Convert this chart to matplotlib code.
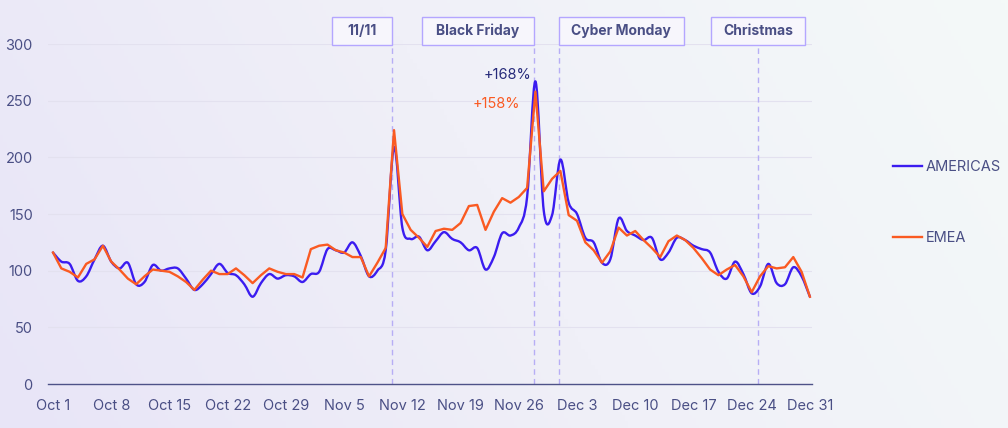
import numpy as np
import pandas as pd
import matplotlib
matplotlib.use("Agg")
import matplotlib.pyplot as plt
import matplotlib.dates as mdates
from matplotlib.path import Path
from matplotlib.patches import PathPatch, Rectangle
from matplotlib.lines import Line2D
from matplotlib.colors import LinearSegmentedColormap
from matplotlib.transforms import blended_transform_factory

# ---------------- data ----------------
dates = pd.date_range("2025-10-01", "2025-12-31", freq="D")

americas = [116, 108, 106, 91, 95, 110, 122, 108, 102, 107,
            88, 90, 105, 100, 102, 102, 93, 83, 88, 97,
            106, 98, 96, 88, 77, 89, 97, 93, 96, 95,
            90, 97, 99, 119, 118, 116, 125, 113, 95, 100,
            118, 209, 138, 128, 130, 118, 126, 134, 128, 125,
            118, 120, 101, 112, 133, 131, 138, 165, 267, 153,
            149, 198, 160, 150, 129, 125, 107, 110, 146, 135,
            131, 127, 129, 110, 116, 129, 127, 122, 119, 116,
            99, 93, 108, 97, 80, 86, 106, 89, 88, 103,
            95, 77]

emea = [116, 102, 99, 94, 106, 110, 122, 108, 101, 93,
        88, 95, 101, 100, 99, 95, 90, 83, 92, 100,
        97, 97, 102, 96, 89, 96, 102, 99, 97, 97,
        94, 119, 122, 123, 118, 116, 112, 112, 95, 107,
        120, 224, 150, 136, 129, 121, 135, 137, 136, 142,
        157, 158, 136, 152, 164, 160, 165, 173, 258, 170,
        181, 188, 149, 144, 125, 118, 107, 117, 138, 131,
        135, 127, 120, 112, 126, 131, 127, 120, 111, 101,
        96, 101, 105, 95, 81, 95, 104, 102, 103, 112,
        99, 77]

series_names = ["AMERICAS", "EMEA"]

event_names = ["11/11", "Black Friday", "Cyber Monday", "Christmas"]
event_dates = pd.to_datetime(["2025-11-11", "2025-11-28", "2025-12-01", "2025-12-25"])

peak_labels = ["+168%", "+158%"]

tick_dates = pd.date_range("2025-10-01", "2025-12-31", freq="7D")
y_ticks = [0, 50, 100, 150, 200, 250, 300]

# ---------------- style ----------------
C_BLUE = "#3b1cf0"
C_ORANGE = "#fa5a22"
C_TEXT = "#4a4f85"
C_NAVY = "#262a7a"
C_DASH = "#b7aef5"
C_BOX = "#b4a6ff"
FONT = ["Inter", "DejaVu Sans"]
plt.rcParams["font.family"] = FONT

W, H = 1008, 428
fig = plt.figure(figsize=(W / 100, H / 100), dpi=100)

# background gradient
bg = fig.add_axes([0, 0, 1, 1], zorder=-10)
cmap = LinearSegmentedColormap.from_list("bg", ["#e8e5f7", "#f0f0f8", "#f4f9f8"])
gx = np.linspace(0, 1, 300)
gy = np.linspace(0, 1, 130)
GX, GY = np.meshgrid(gx, gy)
bg.imshow(0.8 * GX + 0.2 * GY, cmap=cmap, aspect="auto", extent=[0, 1, 0, 1],
          vmin=0, vmax=1, origin="lower")
bg.axis("off")

left, right = 48 / W, 812 / W
bottom, top = (H - 384) / H, (H - 44) / H
ax = fig.add_axes([left, bottom, right - left, top - bottom])
ax.set_facecolor("none")

xnum = mdates.date2num(dates)


def smooth_path(x, y):
    x = np.asarray(x, float)
    y = np.asarray(y, float)
    n = len(x)
    verts = [(x[0], y[0])]
    codes = [Path.MOVETO]
    for i in range(n - 1):
        i0 = max(i - 1, 0)
        i3 = min(i + 2, n - 1)
        c1 = (x[i] + (x[i + 1] - x[i0]) / 6, y[i] + (y[i + 1] - y[i0]) / 6)
        c2 = (x[i + 1] - (x[i3] - x[i]) / 6, y[i + 1] - (y[i3] - y[i]) / 6)
        verts += [c1, c2, (x[i + 1], y[i + 1])]
        codes += [Path.CURVE4] * 3
    return Path(verts, codes)


# EMEA: straight segments
ax.plot(dates, emea, color=C_ORANGE, lw=1.7, zorder=4, solid_joinstyle="round")
# AMERICAS: smooth curve through the daily values
ax.add_patch(PathPatch(smooth_path(xnum, americas), facecolor="none", edgecolor=C_BLUE,
                       lw=1.7, zorder=3, joinstyle="round", capstyle="round"))

ax.set_ylim(0, 300)
ax.set_xlim(xnum[0] - 0.6, xnum[-1] + 0.25)
ax.set_yticks(y_ticks)
ax.set_xticks(mdates.date2num(tick_dates))
ax.set_xticklabels([f"{d.strftime('%b')} {d.day}" for d in tick_dates])
ax.tick_params(axis="both", length=0, labelsize=10.5, labelcolor=C_TEXT)
ax.tick_params(axis="y", pad=11)
ax.tick_params(axis="x", pad=11)
for s in ["top", "right", "left"]:
    ax.spines[s].set_visible(False)
ax.spines["bottom"].set_color("#4e5288")
ax.spines["bottom"].set_linewidth(1.0)
for v in y_ticks[1:]:
    ax.axhline(v, color="#e3e1ef", lw=0.8, zorder=1)

# event lines and boxes
box_w = [60, 112, 125, 94]          # pixel widths
box_align = ["right", "right", "left", "center"]
day_px = (812 - 48) / (xnum[-1] + 0.25 - (xnum[0] - 0.6))
trans = blended_transform_factory(ax.transData, ax.transAxes)
for name, d, wpx, al in zip(event_names, event_dates, box_w, box_align):
    xd = mdates.date2num(d) - 0.2
    ax.plot([xd, xd], [0, 1.0], transform=trans, color=C_DASH, lw=1.0,
            dashes=(4, 3), zorder=2, clip_on=False)
    wd = wpx / day_px
    if al == "right":
        x0 = xd - wd
    elif al == "left":
        x0 = xd
    else:
        x0 = xd - wd / 2
    ax.add_patch(Rectangle((x0, 0.997), wd, 0.082, transform=trans, facecolor="#f7f6fc",
                           edgecolor=C_BOX, lw=1.0, clip_on=False, zorder=5))
    ax.text(x0 + wd / 2, 0.997 + 0.041, name, transform=trans, ha="center", va="center",
            fontsize=10, fontweight="bold", color=C_TEXT, zorder=6)

# peak annotations
ib = int(np.argmax(americas))
io = int(np.argmax(emea))
ax.text(xnum[ib] - 0.5, americas[ib] + 6, peak_labels[0], ha="right", va="center",
        fontsize=10.5, color=C_NAVY, zorder=6)
ax.text(xnum[io] - 1.8, emea[io] - 11, peak_labels[1], ha="right", va="center",
        fontsize=10.5, color=C_ORANGE, zorder=6)

# legend
handles = [Line2D([], [], color=C_BLUE, lw=1.7), Line2D([], [], color=C_ORANGE, lw=1.7)]
leg = fig.legend(handles, series_names, loc="upper left",
                 bbox_to_anchor=(893 / W, 1 - 160 / H), frameon=False, fontsize=10.5,
                 handlelength=2.0, handletextpad=0.25, labelspacing=3.9,
                 borderpad=0, borderaxespad=0)
for t in leg.get_texts():
    t.set_color(C_TEXT)

fig.savefig("out.png", dpi=100)
